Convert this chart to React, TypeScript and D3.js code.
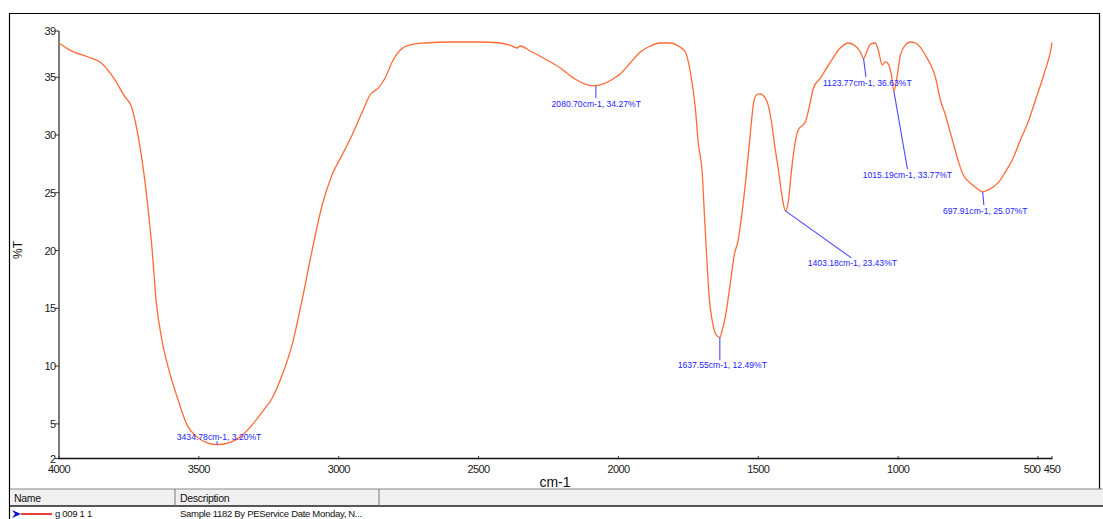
import React from 'react';
import * as d3 from 'd3';

// Spectrum (wavenumber cm-1, %T)
const wavenumbers = [
  4000, 3961, 3896, 3853, 3807, 3764, 3742, 3721, 3703, 3685, 3667, 3653, 3632, 3607, 3574, 3542, 3506, 3467,
  3434.78, 3396, 3353, 3310, 3274, 3238, 3202, 3167, 3131, 3095, 3059, 3024, 2988, 2952, 2916, 2888, 2859, 2834,
  2809, 2780, 2745, 2691, 2602, 2494, 2423, 2380, 2362, 2351, 2315, 2262, 2208, 2155, 2108, 2080.7, 2051, 2026,
  1994, 1958, 1922, 1886, 1851, 1815, 1786, 1761, 1743, 1725, 1715, 1700, 1692, 1683, 1675, 1665, 1650, 1637.55,
  1629, 1618, 1600, 1586, 1572, 1557, 1543, 1529, 1518, 1507, 1493, 1471, 1457, 1439, 1428, 1414, 1403.18, 1393,
  1382, 1368, 1357, 1332, 1314, 1303, 1278, 1242, 1207, 1178, 1153, 1135, 1123.77, 1110, 1099, 1082, 1071, 1057,
  1046, 1035, 1024, 1015.19, 1003, 992, 974, 956, 938, 921, 903, 885, 867, 849, 831, 821, 806, 785, 767, 742, 720,
  697.91, 681, 660, 635, 617, 592, 563, 534, 509, 491, 474, 456, 450,
];
const transmittance = [
  37.96, 37.35, 36.75, 36.32, 35.02, 33.29, 32.51, 30.43, 27.83, 24.37, 20.04, 15.71, 12.25, 9.65, 7.05, 4.89, 3.85, 3.33,
  3.2, 3.33, 3.85, 4.89, 6.01, 7.22, 9.22, 11.81, 15.71, 20.04, 23.94, 26.53, 28.26, 30.0, 31.99, 33.46, 34.06, 34.93,
  36.32, 37.35, 37.79, 37.96, 38.05, 38.05, 37.96, 37.7, 37.53, 37.7, 37.27, 36.58, 35.8, 34.84, 34.32, 34.27, 34.45, 34.76,
  35.28, 36.23, 37.18, 37.7, 37.96, 37.96, 37.7, 37.18, 35.45, 32.33, 29.39, 26.53, 22.8, 18.8, 15.8, 13.98, 12.68, 12.49,
  13.11, 14.24, 17.18, 19.61, 20.9, 23.5, 26.53, 30.0, 32.59, 33.46, 33.55, 33.03, 31.73, 28.7, 26.97, 24.54, 23.43, 24.19,
  26.79, 29.39, 30.43, 31.12, 32.85, 34.06, 34.93, 36.32, 37.53, 37.96, 37.7, 37.18, 36.63, 37.35, 37.87, 37.96, 37.35, 36.06,
  36.32, 36.14, 35.19, 33.77, 35.19, 36.92, 37.79, 38.05, 37.96, 37.61, 36.92, 36.14, 35.02, 33.03, 31.73, 30.86, 29.56, 27.74, 26.53, 25.84, 25.41,
  25.07, 25.23, 25.49, 26.1, 26.79, 27.83, 29.56, 31.21, 33.03, 34.32, 35.62, 37.18, 38.0,
];

const xTicks = [4000, 3500, 3000, 2500, 2000, 1500, 1000, 500, 450];
const yTicks = [2, 5, 10, 15, 20, 25, 30, 35, 39];

// Peak annotations
const peakWavenumbers = [3434.78, 2080.7, 1637.55, 1403.18, 1123.77, 1015.19, 697.91];
const peakValues = [3.2, 34.27, 12.49, 23.43, 36.63, 33.77, 25.07];
// leader-line end and label offsets (px) relative to the peak
const leaderDx = [0, 0, 0, 66, 2.4, 13.5, 1.2];
const leaderDy = [-3.5, 12.4, 23, 47, 18.6, 77.6, 13];
const labelDx = [2, 0.4, 2.5, 67, 3.8, 13.5, 2.7];
const labelDy = [-4.5, 21.4, 31, 55, 27.6, 86.6, 22];

const xLabel = 'cm-1';
const yLabel = '%T';
const tableHeaders = ['Name', 'Description'];
const tableRow = ['g 009 1 1', 'Sample 1182 By PEService Date Monday, N...'];

export default function App() {
  const W = 1103;
  const H = 519;
  const x = d3.scaleLinear().domain([4000, 450]).range([59, 1052]);
  const y = d3.scaleLinear().domain([2, 39]).range([458.5, 31]);
  const pts: [number, number][] = wavenumbers.map((w, i) => [w, transmittance[i]]);
  const line = d3
    .line<[number, number]>()
    .x((d) => x(d[0]))
    .y((d) => y(d[1]))
    .curve(d3.curveMonotoneX);
  const font = 'Liberation Sans, Arial, sans-serif';
  const blue = '#2424ff';

  return (
    <svg
      width={W}
      height={H}
      style={{ position: 'absolute', left: 0, top: 0, background: '#fff' }}
      fontFamily={font}
    >
      <rect x={0} y={0} width={W} height={H} fill="#fff" />
      {/* frame */}
      <line x1={9.5} y1={13.5} x2={1100} y2={13.5} stroke="#000" strokeWidth={1.2} />
      <line x1={9.5} y1={13} x2={9.5} y2={H} stroke="#000" strokeWidth={1.2} />
      <line x1={1099.5} y1={13} x2={1099.5} y2={489} stroke="#000" strokeWidth={1.2} />

      {/* axes */}
      <line x1={x(4000)} y1={y(39)} x2={x(4000)} y2={y(2)} stroke="#7a7a7a" strokeWidth={2} />
      <line x1={x(4000)} y1={y(2)} x2={x(450)} y2={y(2)} stroke="#111" strokeWidth={1.4} />

      {yTicks.map((t) => (
        <g key={'y' + t}>
          <line x1={x(4000) - 4} x2={x(4000)} y1={y(t)} y2={y(t)} stroke="#333" strokeWidth={1} />
          <text x={x(4000) - 3.5} y={y(t) + 4} fontSize={11} textAnchor="end" fill="#1a1a1a" letterSpacing={-0.6}>
            {t}
          </text>
        </g>
      ))}
      {xTicks.map((t) => (
        <g key={'x' + t}>
          <line x1={x(t)} x2={x(t)} y1={y(2) - 2.5} y2={y(2) + 1} stroke="#333" strokeWidth={1} />
          <text
            x={x(t) + (t === 500 ? -6 : 0)}
            y={473}
            fontSize={11}
            textAnchor="middle"
            fill="#1a1a1a"
            letterSpacing={-0.6}
          >
            {t}
          </text>
        </g>
      ))}

      <text x={555} y={487} fontSize={14} textAnchor="middle" fill="#111">
        {xLabel}
      </text>
      <text transform="translate(22,250) rotate(-90)" fontSize={12} textAnchor="middle" fill="#111">
        {yLabel}
      </text>

      {/* spectrum */}
      <path d={line(pts) || ''} fill="none" stroke="#ff6a35" strokeWidth={1.3} strokeLinejoin="round" />

      {/* peak annotations */}
      {peakWavenumbers.map((w, i) => {
        const px = x(w);
        const py = y(peakValues[i]);
        return (
          <g key={'p' + i}>
            <line
              x1={px}
              y1={py}
              x2={px + leaderDx[i]}
              y2={py + leaderDy[i]}
              stroke="#4a4aff"
              strokeWidth={1.1}
            />
            <text
              x={px + labelDx[i]}
              y={py + labelDy[i]}
              fontSize={8.6}
              textAnchor="middle"
              fill={blue}
            >
              {`${w.toFixed(2)}cm-1, ${peakValues[i].toFixed(2)}%T`}
            </text>
          </g>
        );
      })}

      {/* table */}
      <rect x={10} y={489} width={W - 10} height={17} fill="#f0f0f0" />
      <line x1={10} x2={W} y1={489} y2={489} stroke="#888" strokeWidth={1} />
      <line x1={10} x2={W} y1={506} y2={506} stroke="#222" strokeWidth={1.3} />
      <line x1={175} x2={175} y1={489} y2={506} stroke="#777" strokeWidth={1} />
      <line x1={379} x2={379} y1={489} y2={506} stroke="#777" strokeWidth={1} />
      <text x={14} y={502} fontSize={10.5} fill="#111" letterSpacing={-0.3}>
        {tableHeaders[0]}
      </text>
      <text x={180} y={502} fontSize={10.5} fill="#111" letterSpacing={-0.3}>
        {tableHeaders[1]}
      </text>
      <path d="M12,510 L21,514 L12,518 L15,514 Z" fill="#1010c0" />
      <line x1={21} x2={52} y1={514} y2={514} stroke="#e00000" strokeWidth={1.5} />
      <text x={55} y={517} fontSize={9.5} fill="#111" letterSpacing={-0.3}>
        {tableRow[0]}
      </text>
      <text x={180} y={517} fontSize={9.5} fill="#111" letterSpacing={-0.3}>
        {tableRow[1]}
      </text>
    </svg>
  );
}
